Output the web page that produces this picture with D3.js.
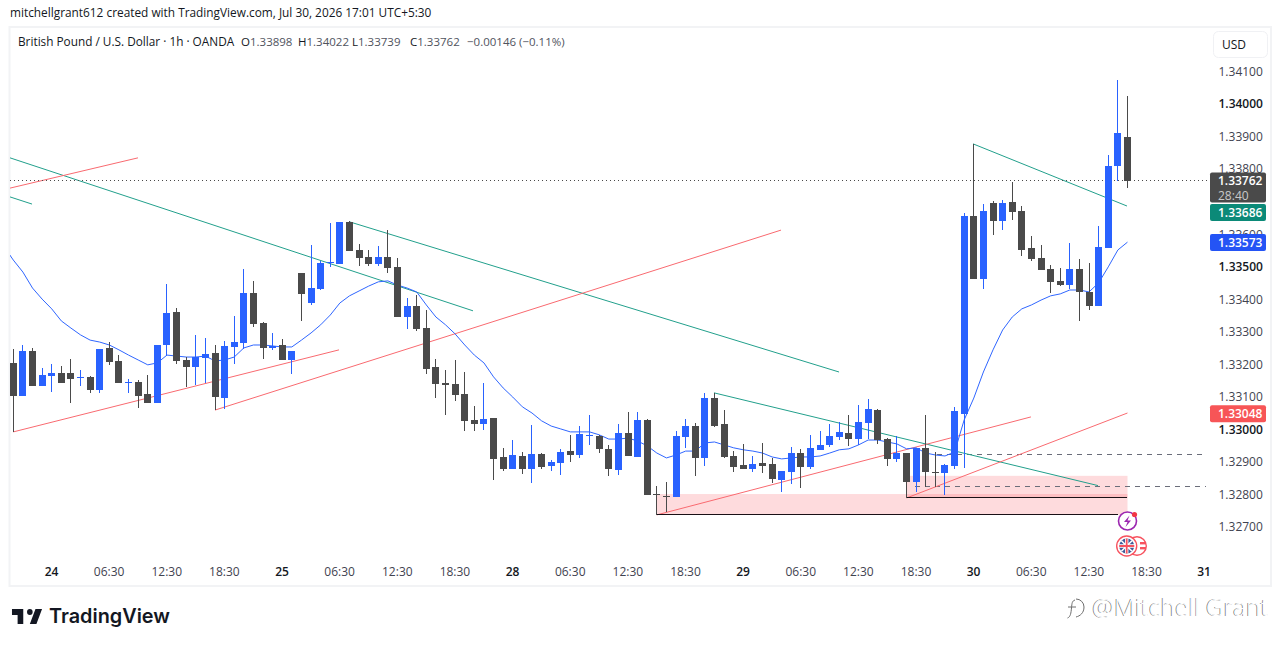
<!DOCTYPE html>
<html><head><meta charset="utf-8">
<script src="https://cdn.jsdelivr.net/npm/d3@7/dist/d3.min.js"></script>
<style>html,body{margin:0;padding:0;background:#fff;overflow:hidden}svg{display:block}text{font-family:"Open Sans","Noto Sans",sans-serif}</style>
</head><body><svg id="c" width="1281" height="647"></svg>
<script>
const opens=[1.33203,1.33102,1.33240,1.33132,1.33163,1.33172,1.33172,1.33157,1.33160,1.33120,1.33249,1.33209,1.33141,1.33144,1.33108,1.33080,1.33258,1.33359,1.33212,1.33190,1.33218,1.33233,1.33095,1.33252,1.33264,1.33418,1.33326,1.33249,1.33258,1.33212,1.33479,1.33387,1.33430,1.33510,1.33507,1.33636,1.33550,1.33528,1.33507,1.33528,1.33498,1.33344,1.33378,1.33310,1.33190,1.33141,1.33138,1.33108,1.33028,1.33015,1.33034,1.32914,1.32877,1.32917,1.32877,1.32923,1.32886,1.32896,1.32932,1.32920,1.32979,1.32979,1.32939,1.32874,1.32988,1.32914,1.33028,1.32800,1.32794,1.32791,1.32975,1.33009,1.32911,1.33095,1.33015,1.32917,1.32889,1.32877,1.32895,1.32892,1.32843,1.32868,1.32926,1.32883,1.32936,1.32951,1.32975,1.32988,1.32969,1.33018,1.33058,1.32969,1.32908,1.32926,1.32837,1.32942,1.32868,1.32865,1.32886,1.33046,1.33654,1.33461,1.33694,1.33639,1.33697,1.33670,1.33556,1.33525,1.33492,1.33455,1.33442,1.33492,1.33421,1.33378,1.33556,1.33808,1.33898];
const highs=[1.33246,1.33258,1.33249,1.33187,1.33200,1.33194,1.33215,1.33181,1.33163,1.33246,1.33267,1.33227,1.33154,1.33151,1.33166,1.33258,1.33445,1.33372,1.33221,1.33289,1.33280,1.33258,1.33270,1.33347,1.33491,1.33455,1.33329,1.33295,1.33276,1.33240,1.33479,1.33565,1.33516,1.33633,1.33636,1.33639,1.33568,1.33550,1.33562,1.33611,1.33525,1.33402,1.33412,1.33366,1.33215,1.33181,1.33212,1.33175,1.33071,1.33141,1.33034,1.32942,1.32966,1.32929,1.33012,1.32926,1.32905,1.32939,1.32982,1.33009,1.33043,1.32982,1.32951,1.33015,1.33052,1.33052,1.33031,1.32825,1.32837,1.32994,1.33031,1.33018,1.33111,1.33111,1.33058,1.32932,1.32954,1.32917,1.32957,1.32911,1.32871,1.32945,1.32939,1.32982,1.32994,1.33015,1.33021,1.33043,1.33074,1.33092,1.33061,1.32972,1.32979,1.32926,1.32942,1.33043,1.32929,1.32892,1.33068,1.33664,1.33876,1.33691,1.33700,1.33703,1.33759,1.33685,1.33593,1.33565,1.33504,1.33495,1.33571,1.33522,1.33510,1.33624,1.33842,1.34072,1.34022];
const lows=[1.32990,1.33102,1.33132,1.33132,1.33114,1.33141,1.33080,1.33132,1.33111,1.33111,1.33197,1.33141,1.33111,1.33065,1.33080,1.33080,1.33224,1.33200,1.33129,1.33135,1.33141,1.33058,1.33061,1.33200,1.33246,1.33313,1.33215,1.33243,1.33212,1.33169,1.33332,1.33381,1.33427,1.33498,1.33507,1.33547,1.33501,1.33501,1.33501,1.33479,1.33344,1.33307,1.33301,1.33169,1.33095,1.33043,1.33086,1.32994,1.32994,1.32997,1.32843,1.32871,1.32877,1.32862,1.32834,1.32877,1.32871,1.32859,1.32899,1.32911,1.32951,1.32926,1.32856,1.32859,1.32917,1.32914,1.32797,1.32736,1.32744,1.32791,1.32942,1.32856,1.32886,1.33006,1.32911,1.32868,1.32877,1.32868,1.32865,1.32834,1.32806,1.32831,1.32819,1.32877,1.32936,1.32945,1.32966,1.32948,1.32951,1.32969,1.32954,1.32886,1.32899,1.32788,1.32806,1.32821,1.32821,1.32797,1.32877,1.32880,1.33461,1.33430,1.33596,1.33611,1.33642,1.33531,1.33516,1.33488,1.33418,1.33439,1.33430,1.33333,1.33366,1.33378,1.33556,1.33762,1.33739];
const closes=[1.33102,1.33240,1.33132,1.33166,1.33172,1.33141,1.33154,1.33160,1.33120,1.33246,1.33206,1.33141,1.33144,1.33101,1.33080,1.33258,1.33356,1.33209,1.33190,1.33221,1.33230,1.33098,1.33255,1.33267,1.33418,1.33323,1.33249,1.33255,1.33212,1.33240,1.33415,1.33433,1.33510,1.33513,1.33636,1.33547,1.33525,1.33507,1.33528,1.33495,1.33344,1.33378,1.33307,1.33184,1.33138,1.33135,1.33104,1.33025,1.33015,1.33031,1.32908,1.32877,1.32920,1.32877,1.32923,1.32883,1.32899,1.32929,1.32920,1.32985,1.32982,1.32939,1.32877,1.32988,1.32917,1.33028,1.32797,1.32797,1.32791,1.32979,1.33009,1.32911,1.33095,1.33009,1.32914,1.32883,1.32877,1.32892,1.32886,1.32846,1.32871,1.32926,1.32883,1.32942,1.32951,1.32979,1.32991,1.32969,1.33021,1.33061,1.32966,1.32908,1.32926,1.32837,1.32942,1.32868,1.32865,1.32889,1.33055,1.33654,1.33461,1.33670,1.33639,1.33694,1.33667,1.33550,1.33522,1.33488,1.33452,1.33442,1.33492,1.33421,1.33378,1.33559,1.33808,1.33909,1.33762];
const maStart=-1;
const maValues=[1.33562,1.33519,1.33482,1.33433,1.33399,1.33369,1.33332,1.33310,1.33289,1.33273,1.33267,1.33258,1.33243,1.33227,1.33212,1.33197,1.33203,1.33227,1.33224,1.33221,1.33221,1.33224,1.33209,1.33212,1.33221,1.33249,1.33258,1.33258,1.33255,1.33252,1.33252,1.33273,1.33295,1.33320,1.33350,1.33387,1.33409,1.33424,1.33439,1.33452,1.33455,1.33442,1.33433,1.33421,1.33381,1.33344,1.33320,1.33292,1.33258,1.33227,1.33203,1.33160,1.33126,1.33098,1.33068,1.33049,1.33025,1.33009,1.33000,1.32991,1.32991,1.32991,1.32982,1.32969,1.32969,1.32972,1.32963,1.32948,1.32926,1.32911,1.32920,1.32932,1.32932,1.32957,1.32960,1.32951,1.32942,1.32936,1.32932,1.32926,1.32914,1.32908,1.32911,1.32914,1.32914,1.32917,1.32926,1.32936,1.32939,1.32951,1.32966,1.32966,1.32960,1.32954,1.32939,1.32942,1.32926,1.32920,1.32917,1.32929,1.33028,1.33095,1.33175,1.33243,1.33304,1.33344,1.33369,1.33381,1.33396,1.33409,1.33415,1.33427,1.33427,1.33421,1.33449,1.33498,1.33550,1.33574];
const priceTicks=[1.327,1.328,1.329,1.33,1.331,1.332,1.333,1.334,1.335,1.336,1.338,1.339,1.34,1.341];
const boldPrices=[1.33,1.335,1.34];
const timeIdx=[4,10,16,22,28,34,40,46,52,58,64,70,76,82,88,94,100,106,112,118,124];
const timeLabels=["24","06:30","12:30","18:30","25","06:30","12:30","18:30","28","06:30","12:30","18:30","29","06:30","12:30","18:30","30","06:30","12:30","18:30","31"];
const boldTimes=["24","25","28","29","30","31"];
const tealLines=[[-0.34,1.33833,47.86,1.33363],[35.05,1.33636,85.97,1.33175],[-0.34,1.33713,1.95,1.33691],[72.95,1.33111,112.93,1.32826],[99.92,1.33876,115.95,1.33685]];
const redLines=[[-0.34,1.33740,12.98,1.33833],[0,1.32991,33.91,1.33243],[21,1.33058,79.93,1.33611],[67,1.32736,105.95,1.33037],[93,1.32788,116,1.33049]];
const blackLines=[[67,1.32736,115,1.32736],[93,1.32788,116,1.32788]];
const dashLines=[[96.2,1.32923,124.2,1.32923],[93.9,1.32823,124.2,1.32823]];
const zones=[[67,1.32736,116,1.32800],[93,1.32788,116,1.32856]];
const lastPrice=1.33762, countdown="28:40";
const priceBoxes=[{v:1.33686,c:"#0b8a78",d:6.8},{v:1.33573,c:"#2454f5",d:0},{v:1.33048,c:"#f75557",d:0.3}];

const UP="#2962ff",DOWN="#4a4a4a",TEAL="#22a08c",RED="#f96a70",INK="#131722",GREY="#3f4350";
const svg=d3.select("#c");
const x=d3.scaleLinear().domain([0,116]).range([13.3,13.3+116*9.605]);
const y=d3.scaleLinear().domain([1.327,1.34]).range([526.6,103.5]);
const idx=d3.range(opens.length);

svg.append("rect").attr("x",9.5).attr("y",27).attr("width",1261.5).attr("height",559).attr("fill","none").attr("stroke","#f2f3f5").attr("stroke-width",2);
svg.append("clipPath").attr("id","p").append("rect").attr("x",10).attr("y",28).attr("width",1198).attr("height",557);
const plot=svg.append("g").attr("clip-path","url(#p)");

plot.selectAll(".z").data(zones).join("rect").attr("x",d=>x(d[0])).attr("width",d=>x(d[2])-x(d[0])).attr("y",d=>y(d[3])).attr("height",d=>y(d[1])-y(d[3])).attr("fill","#fb5b66").attr("fill-opacity",.22);
function segs(data,col,w,dash,crisp){
  plot.append("g").selectAll("line").data(data).join("line").attr("x1",d=>x(d[0])).attr("y1",d=>y(d[1])).attr("x2",d=>x(d[2])).attr("y2",d=>y(d[3])).attr("stroke",col).attr("stroke-width",w).attr("stroke-dasharray",dash).attr("shape-rendering",crisp?"crispEdges":"auto");
}
segs(dashLines,"#6b6e7a",1,"5,5",true);
segs(tealLines,TEAL,1);
segs(redLines,RED,1);
segs(blackLines,"#1a1016",1,null,true);
plot.append("line").attr("x1",10).attr("x2",1208).attr("y1",y(lastPrice)).attr("y2",y(lastPrice)).attr("stroke","#4a4a4a").attr("stroke-width",1).attr("stroke-dasharray","1,3").attr("shape-rendering","crispEdges");
plot.append("path").datum(maValues).attr("fill","none").attr("stroke","#2f66ff").attr("stroke-width",1)
  .attr("d",d3.line().x((d,i)=>x(i+maStart)).y(d=>y(d)));

const cx=i=>Math.floor(x(i));
const col=i=>closes[i]>=opens[i]?UP:DOWN;
const cg=plot.append("g").attr("shape-rendering","crispEdges");
cg.selectAll(".w").data(idx).join("rect").attr("x",cx).attr("width",1).attr("y",i=>y(highs[i])).attr("height",i=>y(lows[i])-y(highs[i])).attr("fill",col);
cg.selectAll(".b").data(idx).join("rect").attr("x",i=>cx(i)-3).attr("width",7).attr("y",i=>y(Math.max(opens[i],closes[i]))).attr("height",i=>Math.max(1,Math.abs(y(opens[i])-y(closes[i])))).attr("fill",col);

// price axis
const fmt=d3.format(".5f");
const yAxis=d3.axisRight(y).tickValues(priceTicks).tickSize(0).tickPadding(0).tickFormat(fmt);
const ya=svg.append("g").attr("transform","translate(1218.5,0.5)").call(yAxis);
ya.select(".domain").remove();
ya.selectAll("text").attr("font-size",12).style('font-family','"Open Sans",sans-serif')
  .attr("font-weight",d=>boldPrices.includes(d)?600:400).attr("fill",d=>boldPrices.includes(d)?INK:GREY);
// time axis
const xAxis=d3.axisBottom(x).tickValues(timeIdx).tickSize(0).tickPadding(0).tickFormat((d,i)=>timeLabels[i]);
const xa=svg.append("g").attr("transform","translate(-0.7,567.5)").call(xAxis);
xa.select(".domain").remove();
xa.selectAll("text").attr("font-size",12).style('font-family','"Open Sans",sans-serif').attr("font-weight",(d,i)=>boldTimes.includes(timeLabels[i])?600:400).attr("fill",(d,i)=>boldTimes.includes(timeLabels[i])?INK:GREY);

// USD button
svg.append("rect").attr("x",1213.5).attr("y",31.5).attr("width",54).attr("height",26).attr("rx",5).attr("fill","#fff").attr("stroke","#f0f1f4");
svg.append("text").attr("x",1222).attr("y",49).attr("font-size",12).attr("fill",INK).text("USD");

// price labels
const ly=y(lastPrice);
svg.append("rect").attr("x",1210).attr("y",ly-8.5).attr("width",56).attr("height",30).attr("rx",2).attr("fill","#4a4a4a");
svg.append("text").attr("x",1218).attr("y",ly+4.5).attr("font-size",12).attr("font-weight",600).attr("fill","#fff").text(fmt(lastPrice));
svg.append("text").attr("x",1218).attr("y",ly+19).attr("font-size",12).attr("fill","#c9c9c9").text(countdown);
priceBoxes.forEach(b=>{
  const c=y(b.v)+b.d;
  svg.append("rect").attr("x",1210).attr("y",c-8.5).attr("width",56).attr("height",17).attr("rx",2).attr("fill",b.c);
  svg.append("text").attr("x",1218).attr("y",c+4.5).attr("font-size",12).attr("font-weight",600).attr("fill","#fff").text(fmt(b.v));
});

// headers
svg.append("text").attr("x",10).attr("y",17).attr("font-size",11.85).attr("fill",INK).text("mitchellgrant612 created with TradingView.com, Jul 30, 2026 17:01 UTC+5:30");
const lg=svg.append("g").attr("font-size",11.5);
lg.append("text").attr("x",18).attr("y",46).attr("font-size",11.8).attr("fill",INK).text("British Pound / U.S. Dollar · 1h · OANDA");
[["O","1.33898",241],["H","1.34022",298],["L","1.33739",352],["C","1.33762",410]].forEach(a=>{
  const t=lg.append("text").attr("x",a[2]).attr("y",46).attr("fill",INK);
  t.append("tspan").text(a[0]); t.append("tspan").attr("fill","#50535e").text(a[1]);
});
lg.append("text").attr("x",467).attr("y",46).attr("fill","#50535e").text("−0.00146 (−0.11%)");

// events
const ev=svg.append("g");
ev.append("circle").attr("cx",1127.5).attr("cy",521).attr("r",9).attr("fill","#fff").attr("stroke","#9c27b0").attr("stroke-width",1.6);
ev.append("path").attr("d","M1129.5 515.5l-5.5 6.5h3.5l-2 5 5.5-6.5h-3.500z").attr("fill","#9c27b0");
ev.append("circle").attr("cx",1134.5).attr("cy",514.5).attr("r",2.6).attr("fill","#f23645");
ev.append("circle").attr("cx",1137).attr("cy",546).attr("r",9.3).attr("fill","#fff").attr("stroke","#f7525f").attr("stroke-width",1.4);
ev.append("rect").attr("x",1140).attr("y",542).attr("width",6).attr("height",2.4).attr("fill","#f7525f");
ev.append("rect").attr("x",1140).attr("y",547).attr("width",6).attr("height",2.4).attr("fill","#f7525f");
ev.append("circle").attr("cx",1126.7).attr("cy",546).attr("r",10).attr("fill","#fff").attr("stroke","#f7525f").attr("stroke-width",1.4);
ev.append("circle").attr("cx",1126.7).attr("cy",546).attr("r",7.5).attr("fill","#3e5c9a");
ev.append("path").attr("d","M1121.4 540.7l10.6 10.6M1132 540.7l-10.6 10.6").attr("stroke","#fff").attr("stroke-width",1.6);
ev.append("path").attr("d","M1126.7 538.5v15M1119.2 546h15").attr("stroke","#fff").attr("stroke-width",3.4);
ev.append("path").attr("d","M1126.7 538.5v15M1119.2 546h15").attr("stroke","#f7525f").attr("stroke-width",1.8);

// logo
svg.append("path").attr("transform","translate(10.1,603) scale(.94,1)").attr("fill","#131722")
  .attr("d","M14 6H2v6h6v9h6V6zm14 15h-7l6-15h7l-6 15zm-7-9a3 3 0 1 0 0-6 3 3 0 0 0 0 6z");
svg.append("text").attr("x",49).attr("y",623).attr("font-size",19.85).attr("font-weight",600).style("font-family","Inter,sans-serif").attr("fill","#131722").text("TradingView");

// watermark
const wm=svg.append("g").attr("font-size",24.5).style("font-family","Lato,sans-serif").attr("font-weight",300);
wm.append("text").attr("x",1091.5).attr("y",616).attr("fill","#6e6e6e").text("@Mitchell Grant");
wm.append("text").attr("x",1092.2).attr("y",616).attr("fill","#fff").text("@Mitchell Grant");
svg.append("path").attr("d","M1076 599a8 8 0 0 1 8 8c0 6-4 9-8 10M1075 600c-3 1-3 3-3.500 8s-1 9-4 10M1068 607h8").attr("fill","none").attr("stroke","#6e6e6e").attr("stroke-width",1);
</script></body></html>
